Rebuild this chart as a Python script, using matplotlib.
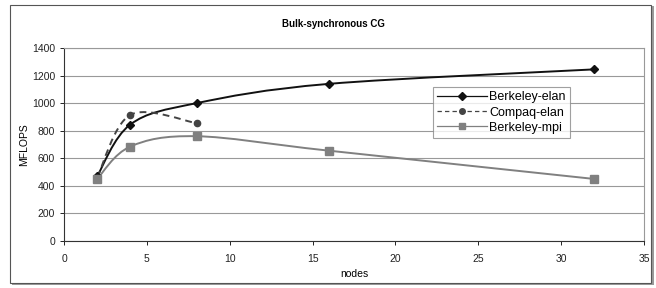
#!/usr/bin/env python3
"""Bulk-synchronous CG: MFLOPS vs nodes, Excel-style smoothed lines."""

import matplotlib

matplotlib.use("Agg")
import matplotlib.pyplot as plt
import numpy as np
from matplotlib.patches import PathPatch, Rectangle
from matplotlib.path import Path

plt.rcParams["font.family"] = ["Liberation Sans", "DejaVu Sans"]

berkeley_elan_nodes = [2, 4, 8, 16, 32]
berkeley_elan_mflops = [470, 845, 1000, 1140, 1245]

compaq_elan_nodes = [2, 4, 8]
compaq_elan_mflops = [460, 915, 855]

berkeley_mpi_nodes = [2, 4, 8, 16, 32]
berkeley_mpi_mflops = [450, 685, 760, 655, 450]


def smooth_path(xs, ys):
    """Catmull-Rom style cubic Bezier through the points (like Excel smoothing)."""
    pts = np.column_stack([xs, ys]).astype(float)
    n = len(pts)
    verts = [pts[0]]
    codes = [Path.MOVETO]
    for i in range(n - 1):
        p0 = pts[i - 1] if i > 0 else pts[i]
        p1 = pts[i]
        p2 = pts[i + 1]
        p3 = pts[i + 2] if i + 2 < n else pts[i + 1]
        c1 = p1 + (p2 - p0) / 6.0
        c2 = p2 - (p3 - p1) / 6.0
        verts += [c1, c2, p2]
        codes += [Path.CURVE4] * 3
    return Path(verts, codes)


fig = plt.figure(figsize=(6.56, 2.88), dpi=100)

# outer chart frame with shadow
fig.patches.append(Rectangle((12 / 656, 3 / 288), 642 / 656, 279 / 288,
                             transform=fig.transFigure, facecolor="#9a9a9a",
                             edgecolor="none", zorder=-20))
fig.patches.append(Rectangle((10 / 656, 5 / 288), 641 / 656, 278 / 288,
                             transform=fig.transFigure, facecolor="white",
                             edgecolor="#555555", linewidth=0.8, zorder=-10))

ax = fig.add_axes([64 / 656, 1 - 241 / 288, 580 / 656, 193 / 288])
ax.set_facecolor("none")

series = [
    (berkeley_elan_nodes, berkeley_elan_mflops, "Berkeley-elan", "#111111", "-", "D", 4.5),
    (compaq_elan_nodes, compaq_elan_mflops, "Compaq-elan", "#444444", (0, (3.5, 2.5)), "o", 4.5),
    (berkeley_mpi_nodes, berkeley_mpi_mflops, "Berkeley-mpi", "#808080", "-", "s", 5.5),
]

for xs, ys, label, color, ls, marker, ms in series:
    ax.add_patch(PathPatch(smooth_path(xs, ys), facecolor="none", edgecolor=color,
                           linestyle=ls, linewidth=1.4, zorder=3))
    ax.plot(xs, ys, linestyle="none", marker=marker, markersize=ms, color=color,
            zorder=4)
    ax.plot([], [], color=color, linestyle=ls, linewidth=0.9, marker=marker,
            markersize=ms - 0.5, label=label)

ax.set_xlim(0, 35)
ax.set_ylim(0, 1400)
ax.set_xticks(range(0, 36, 5))
ax.set_yticks(range(0, 1401, 200))
ax.yaxis.grid(True, color="#999999", linewidth=0.8)
ax.set_axisbelow(True)

for side in ("top", "right"):
    ax.spines[side].set_color("#999999")
    ax.spines[side].set_linewidth(0.8)
for side in ("left", "bottom"):
    ax.spines[side].set_color("#333333")
    ax.spines[side].set_linewidth(0.8)

ax.tick_params(direction="out", length=3, width=0.7, labelsize=7.5, colors="#222222")
ax.tick_params(axis="x", pad=6)
ax.set_xlabel("nodes", fontsize=7.5, labelpad=4)
ax.set_ylabel("MFLOPS", fontsize=7.5, labelpad=2)
fig.text(333 / 656, 1 - 24 / 288, "Bulk-synchronous CG", ha="center", va="center",
         fontsize=7, fontweight="bold")

leg = ax.legend(loc="upper left", bbox_to_anchor=((433 - 64) / 580, (241 - 87) / 193),
                fontsize=9, frameon=True, fancybox=False, borderpad=0.35,
                labelspacing=0.25, handlelength=4.0, handletextpad=0.15,
                borderaxespad=0)
leg.get_frame().set_edgecolor("#888888")
leg.get_frame().set_linewidth(0.8)

fig.savefig("out.png", dpi=100)
